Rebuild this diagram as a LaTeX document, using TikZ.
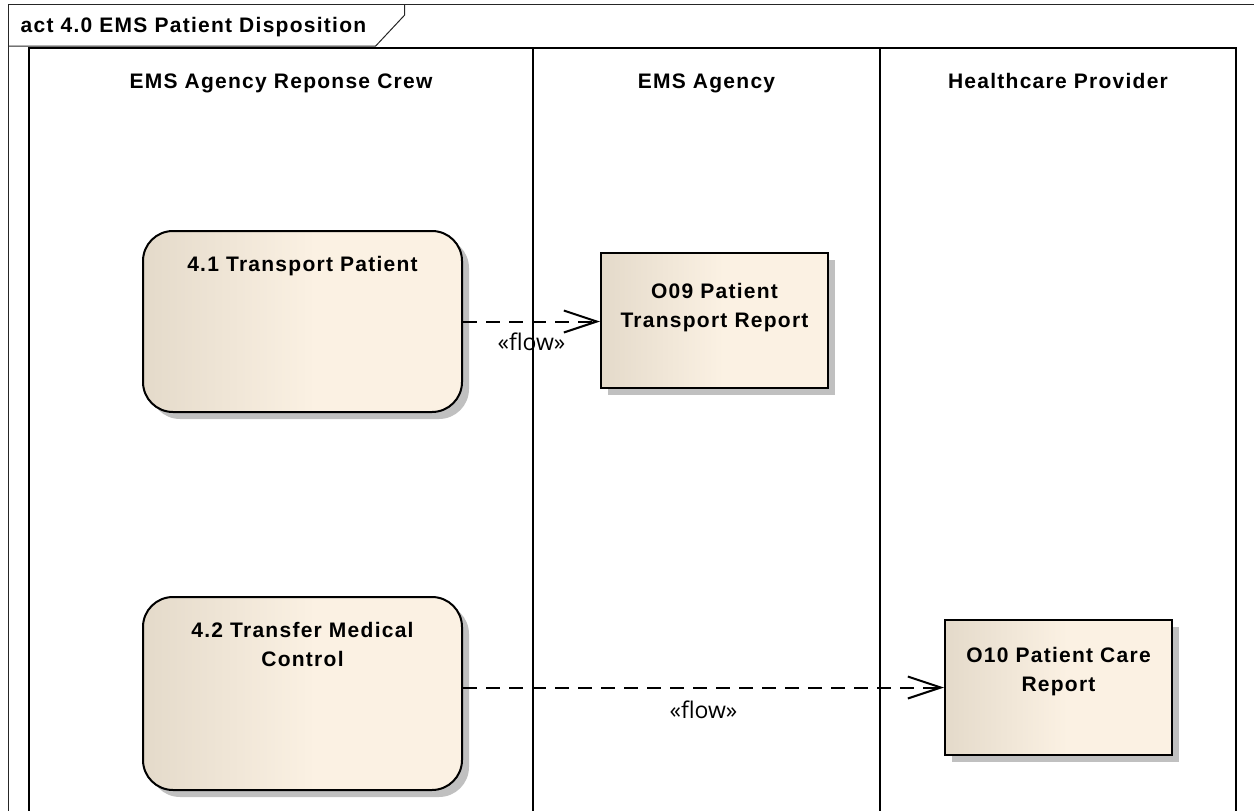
\documentclass[tikz,border=0pt]{standalone}
\usepackage{fontspec}
\setmainfont{Liberation Sans}
\newfontfamily\eafont[LetterSpace=6]{Liberation Sans}
\newfontfamily\flowfont{Open Sans}
\usetikzlibrary{arrows.meta,shadows}
\definecolor{beigeL}{HTML}{E4DACA}
\definecolor{creamR}{HTML}{FBF1E3}
\definecolor{shadowgray}{HTML}{C0C0C0}
\pgfdeclarehorizontalshading{eashade}{100bp}{color(0bp)=(beigeL); color(25bp)=(beigeL); color(52bp)=(creamR); color(100bp)=(creamR)}
\tikzset{
  framel/.style={draw=black!85, line width=1pt},
  lanel/.style={draw=black, line width=2pt},
  boxfill/.style={shading=eashade,
    draw=black, line width=2pt,
    drop shadow={shadow xshift=7pt, shadow yshift=-7pt, fill=shadowgray, opacity=1}},
  actbox/.style={boxfill, rectangle, rounded corners=30pt, inner sep=0pt},
  objbox/.style={boxfill, rectangle, inner sep=0pt},
  eatext/.style={font=\eafont\bfseries\fontsize{21}{29}\selectfont, inner sep=0pt, align=center},
  flowarrow/.style={draw=black, line width=2pt, dash pattern=on 14pt off 9pt,
    -{Straight Barb[length=33pt, width=22pt, line width=2pt]}},
  flowlbl/.style={font=\flowfont\fontsize{23}{26}\selectfont, inner sep=0pt, fill=none}
}
\begin{document}
\begin{tikzpicture}[x=1pt, y=-1pt]
\useasboundingbox (0,0) rectangle (1254,811);
% outer frame and tab
\draw[framel] (8,830) -- (8,4) -- (1270,4);
\draw[framel] (8,46) -- (375.7,46) -- (404.7,15) -- (404.7,4);
\node[eatext, anchor=base west] (title) at (20.5,32) {act 4.0 EMS Patient Disposition};
% swimlanes
\draw[lanel] (29,830) -- (29,48) -- (1236,48) -- (1236,830);
\draw[lanel] (533,48) -- (533,830);
\draw[lanel] (880,48) -- (880,830);
\node[eatext, anchor=base] (lane1) at (281,88) {EMS Agency Reponse Crew};
\node[eatext, anchor=base] (lane2) at (706.5,88) {EMS Agency};
\node[eatext, anchor=base] (lane3) at (1058,88) {Healthcare Provider};
% activities
\node[actbox, minimum width=319pt, minimum height=181pt] (a41) at (302.5,321.5) {};
\node[eatext, anchor=north] (a41t) at (302.5,256.5) {4.1 Transport Patient};
\node[actbox, minimum width=319pt, minimum height=193pt] (a42) at (302.5,693.5) {};
\node[eatext, anchor=north] (a42t) at (302.5,621.7) {4.2 Transfer Medical\\Control};
% objects
\node[objbox, minimum width=227pt, minimum height=135pt] (o09) at (714.5,320.5) {};
\node[eatext, anchor=north] (o09t) at (714.5,282.7) {O09 Patient\\Transport Report};
\node[objbox, minimum width=227pt, minimum height=135pt] (o10) at (1058.5,687.5) {};
\node[eatext, anchor=north] (o10t) at (1058.5,646.7) {O10 Patient Care\\Report};
% flows
\draw[flowarrow] (a41.east) -- (a41.east -| o09.west)
  node[flowlbl, midway, yshift=-20pt] (f1) {«flow»};
\draw[flowarrow] (o10.west -| a42.east) -- (o10.west)
  node[flowlbl, midway, yshift=-22pt] (f2) {«flow»};
\end{tikzpicture}
\end{document}
